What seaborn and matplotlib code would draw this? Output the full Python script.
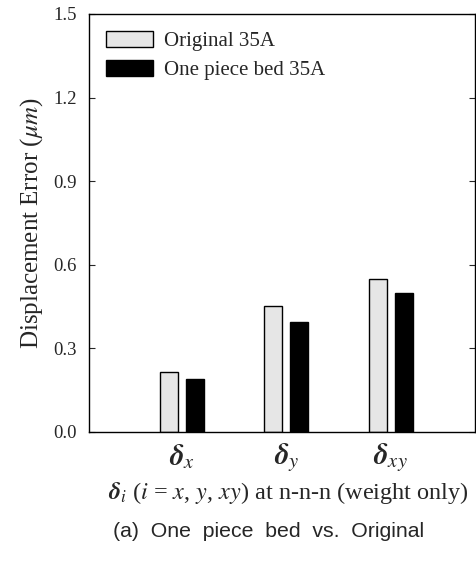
import numpy as np
import pandas as pd
import matplotlib
matplotlib.use("Agg")
import matplotlib.pyplot as plt
import seaborn as sns

# data
categories = [r"$\mathbfit{\delta}_x$", r"$\mathbfit{\delta}_y$", r"$\mathbfit{\delta}_{xy}$"]
original_35a = [0.215, 0.452, 0.548]
one_piece_35a = [0.189, 0.394, 0.500]
series_names = ["Original 35A", "One piece bed 35A"]
yticks = [0.0, 0.3, 0.6, 0.9, 1.2, 1.5]

df = pd.DataFrame({
    "cat": categories * 2,
    "val": original_35a + one_piece_35a,
    "series": [series_names[0]] * 3 + [series_names[1]] * 3,
})

sns.set_style("ticks")
plt.rcParams["font.family"] = ["Liberation Serif", "DejaVu Serif"]
plt.rcParams["mathtext.fontset"] = "stix"

fig = plt.figure(figsize=(4.76, 5.62), dpi=100)
ax = fig.add_axes([89 / 476, 130 / 562, 386 / 476, 418 / 562])

sns.barplot(data=df, x="cat", y="val", hue="series", order=categories,
            hue_order=series_names, palette=["#e6e6e6", "black"],
            width=0.5, gap=0.31, edgecolor="black", linewidth=1.0,
            saturation=1, ax=ax)

ax.set_xlim(-0.894, 2.81)
ax.set_ylim(0, 1.5)
ax.set_yticks(yticks)
ax.set_yticklabels([f"{t:.1f}" for t in yticks], fontsize=13.5)
ax.tick_params(axis="y", direction="in", length=4, width=0.8, pad=9,
               right=True)
ax.tick_params(axis="x", length=0, labelsize=21, pad=7)
for s in ax.spines.values():
    s.set_linewidth(1.0)
    s.set_color("black")

ax.set_xlabel(r"$\mathbfit{\delta}_i$ ($i$ = $x$, $y$, $xy$) at n-n-n (weight only)",
              fontsize=17.5, labelpad=4)
ax.xaxis.set_label_coords(0.5155, -0.115)
ax.set_ylabel(r"Displacement Error ($\mu m$)", fontsize=18, labelpad=6)

leg = ax.legend(loc="upper left", frameon=False, fontsize=15,
                handlelength=2.26, handleheight=0.8, handletextpad=0.53,
                labelspacing=0.45, borderaxespad=0.4,
                bbox_to_anchor=(0.0, 1.0))

fig.text(0.565, 0.055, "(a)  One  piece  bed  vs.  Original", ha="center",
         va="center", fontsize=15.3, family="Liberation Sans")

fig.savefig("out.png", dpi=100)
